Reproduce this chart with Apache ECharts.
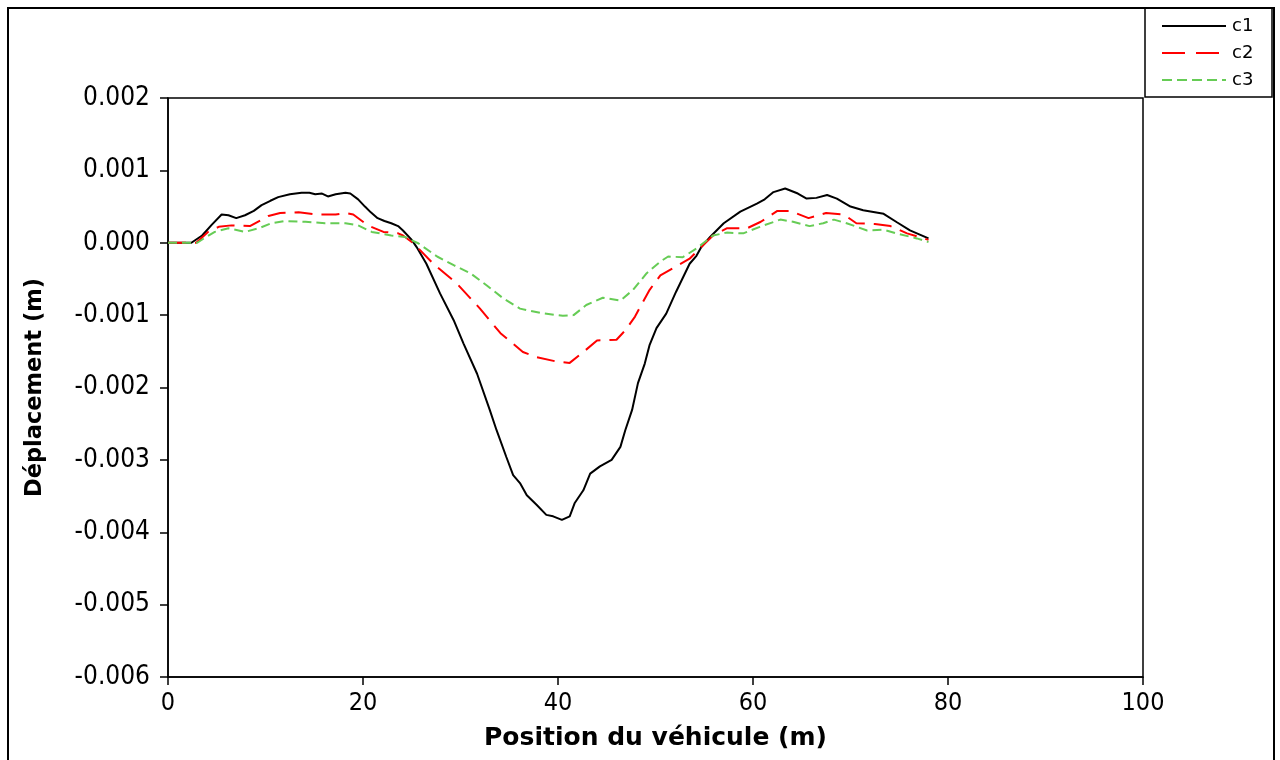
<!DOCTYPE html>
<html><head><meta charset="utf-8">
<script src="https://cdn.jsdelivr.net/npm/echarts@6/dist/echarts.min.js"></script>
<style>html,body{margin:0;padding:0;background:#fff}#c{width:1280px;height:760px}</style>
</head><body><div id="c"></div>
<script>
// Data (x in m, y in mm -> converted to m below)
const c1X = [0,2.4,3.5,4.5,5.5,6.2,7.0,7.9,8.8,9.6,10.5,11.3,12.5,13.7,14.5,15.1,15.8,16.4,17.2,18.2,18.7,19.5,20.2,20.8,21.5,22.2,22.9,23.6,24.1,25.0,25.5,26.5,27.9,29.3,30.3,31.7,33.0,33.7,34.7,35.4,36.1,36.8,37.8,38.8,39.5,40.4,41.2,41.7,42.6,43.3,44.3,45.5,46.4,46.9,47.6,48.2,48.9,49.4,50.1,51.1,52.1,53.5,54.2,54.7,55.6,57.0,58.7,60.4,61.2,62.1,63.3,64.6,65.5,66.5,67.6,68.6,70.0,71.3,73.4,74.8,76.1,78.0];
const c1Y = [0,0,0.10,0.25,0.39,0.38,0.34,0.38,0.44,0.52,0.58,0.63,0.67,0.69,0.69,0.67,0.68,0.64,0.67,0.69,0.68,0.60,0.50,0.42,0.34,0.30,0.27,0.23,0.17,0.04,-0.06,-0.29,-0.70,-1.07,-1.39,-1.81,-2.31,-2.59,-2.96,-3.21,-3.32,-3.49,-3.62,-3.76,-3.78,-3.83,-3.78,-3.60,-3.42,-3.19,-3.09,-3.00,-2.82,-2.59,-2.31,-1.94,-1.67,-1.41,-1.18,-0.98,-0.68,-0.29,-0.18,-0.06,0.08,0.27,0.43,0.54,0.60,0.70,0.75,0.68,0.61,0.62,0.66,0.61,0.50,0.45,0.40,0.28,0.17,0.06];
const c2X = [0,2.9,4.1,5.2,6.5,8.4,10.3,11.5,13.4,15.4,17.2,18.2,19.0,20.5,22.1,23.6,24.1,25.2,27.2,29.6,32.0,34.1,36.4,37.8,39.8,41.2,42.6,44.0,46.0,46.9,47.9,48.7,49.4,50.5,51.8,53.5,54.9,55.9,57.3,59.4,60.8,62.5,63.8,65.7,67.5,69.3,70.6,72.5,74.1,75.8,78.0];
const c2Y = [0,0,0.15,0.22,0.24,0.23,0.37,0.41,0.42,0.39,0.39,0.41,0.39,0.24,0.15,0.13,0.10,-0.01,-0.29,-0.56,-0.91,-1.25,-1.51,-1.58,-1.64,-1.66,-1.51,-1.35,-1.34,-1.21,-1.02,-0.82,-0.65,-0.45,-0.35,-0.22,-0.03,0.10,0.20,0.20,0.29,0.44,0.44,0.34,0.41,0.39,0.27,0.26,0.23,0.13,0.04];
const c3X = [0,3.0,3.8,4.8,6.2,7.9,9.3,10.6,12.0,14.1,16.1,18.2,19.5,20.9,22.9,24.3,25.7,27.6,29.3,31.0,32.7,34.4,36.1,38.2,40.5,41.6,42.9,44.6,46.4,47.7,49.1,50.5,51.3,52.8,54.2,55.9,57.3,59.0,60.7,62.8,64.1,65.8,67.2,68.3,69.6,71.7,73.4,74.7,76.8,78.0];
const c3Y = [0,0,0.07,0.15,0.20,0.15,0.20,0.27,0.30,0.29,0.27,0.27,0.24,0.15,0.10,0.08,-0.01,-0.19,-0.31,-0.42,-0.59,-0.77,-0.91,-0.97,-1.01,-1.00,-0.86,-0.76,-0.80,-0.65,-0.42,-0.26,-0.19,-0.20,-0.08,0.10,0.14,0.13,0.22,0.32,0.29,0.23,0.27,0.32,0.27,0.17,0.18,0.13,0.06,0.01];
const seriesNames = ['c1','c2','c3'];
const xTicks = {min:0, max:100, interval:20};
const yTicks = {min:-0.006, max:0.002, interval:0.001};

function pairs(xs, ys){ return xs.map((x,i)=>[x, ys[i]/1000]); }

const FONT = 'DejaVu Sans Condensed';
const FONT2 = 'DejaVu Sans';
const chart = echarts.init(document.getElementById('c'), null, {renderer:'canvas'});
chart.setOption({
  animation:false,
  backgroundColor:'#fff',
  grid:{left:168, top:98, right:137, bottom:83, show:true, borderColor:'#000', borderWidth:1.5, backgroundColor:'transparent'},
  xAxis:{type:'value', min:xTicks.min, max:xTicks.max, interval:xTicks.interval,
    name:'Position du véhicule (m)', nameLocation:'middle', nameGap:49,
    nameTextStyle:{fontFamily:FONT2, fontWeight:'bold', fontSize:25, color:'#000'},
    axisLine:{show:true, onZero:false, lineStyle:{color:'#000', width:1.5}},
    axisTick:{show:true, inside:false, length:8, lineStyle:{color:'#000', width:1.5}},
    axisLabel:{fontFamily:FONT, fontSize:25, color:'#000', margin:14},
    splitLine:{show:false}},
  yAxis:{type:'value', min:yTicks.min, max:yTicks.max, interval:yTicks.interval,
    name:'Déplacement (m)', nameLocation:'middle', nameGap:121,
    nameTextStyle:{fontFamily:FONT2, fontWeight:'bold', fontSize:22.5, color:'#000'},
    axisLine:{show:true, onZero:false, lineStyle:{color:'#000', width:1.5}},
    axisTick:{show:true, inside:false, length:8, lineStyle:{color:'#000', width:1.5}},
    axisLabel:{fontFamily:FONT, fontSize:26, color:'#000', margin:18, formatter:v=>v.toFixed(3)},
    splitLine:{show:false}},
  legend:{orient:'vertical', left:1156, top:12, itemWidth:64, itemHeight:14, itemGap:9,
    itemStyle:{opacity:0},
    textStyle:{fontFamily:FONT2, fontSize:18, color:'#000', padding:[0,0,0,1]},
    data:[
      {name:seriesNames[0]},
      {name:seriesNames[1], lineStyle:{type:[23,11]}},
      {name:seriesNames[2], lineStyle:{type:[10,5]}}
    ]},
  graphic:[
    {type:'rect', shape:{x:8, y:8, width:1266, height:770}, style:{fill:'none', stroke:'#000', lineWidth:2}, silent:true},
    {type:'rect', shape:{x:1145, y:8, width:127, height:89}, style:{fill:'none', stroke:'#000', lineWidth:1.5}, silent:true}
  ],
  series:[
    {name:seriesNames[0], type:'line', data:pairs(c1X,c1Y), showSymbol:false, symbol:'none', lineStyle:{color:'#000', width:2, type:'solid'}, itemStyle:{color:'#000'}},
    {name:seriesNames[1], type:'line', data:pairs(c2X,c2Y), showSymbol:false, symbol:'none', lineStyle:{color:'#ff0000', width:2, type:[18,9]}, itemStyle:{color:'#ff0000'}},
    {name:seriesNames[2], type:'line', data:pairs(c3X,c3Y), showSymbol:false, symbol:'none', lineStyle:{color:'#66cc55', width:2, type:[9,5]}, itemStyle:{color:'#66cc55'}}
  ]
});
</script></body></html>
